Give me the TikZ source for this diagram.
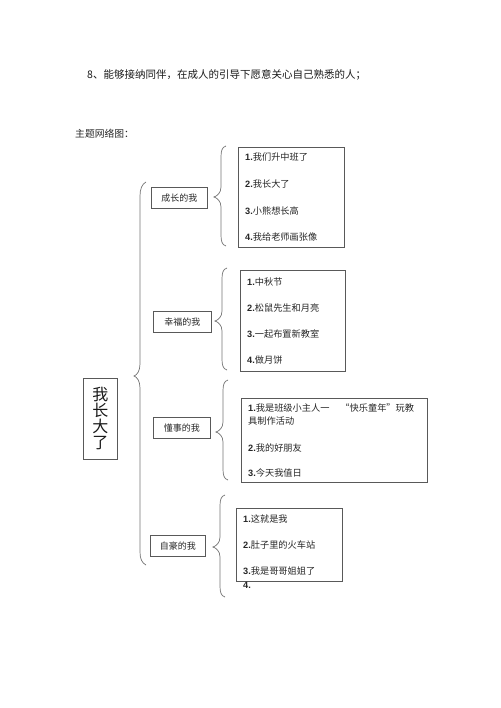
\documentclass[tikz,border=0pt]{standalone}
\usepackage{fontspec}
\setmainfont{Noto Sans CJK SC}
\newfontfamily\numfont{Liberation Sans}
\begin{document}
\begin{tikzpicture}[x=1pt,y=-1pt,
  lc/.style={draw=black!65, line width=0.7pt},
  sub/.style={lc, minimum width=#1, minimum height=21pt, inner sep=0pt, anchor=north west, font=\fontsize{9}{10}\selectfont, text=black!85},
  itembox/.style={lc, inner sep=0pt, anchor=north west},
  item/.style={anchor=west, inner sep=0pt, font=\fontsize{9.2}{10}\selectfont, text=black!85},
  brc/.style={draw=black!55, line width=0.7pt}]
\useasboundingbox (0,0) rectangle (500,708);
\newcommand{\nm}[1]{{\numfont\bfseries #1}}

\node[anchor=west, inner sep=0pt, font=\fontsize{10.5}{12}\selectfont, text=black!90] (head) at (87,75) {8、能够接纳同伴，在成人的引导下愿意关心自己熟悉的人；};
\node[anchor=west, inner sep=0pt, font=\fontsize{9.8}{11}\selectfont, text=black!85] (title) at (75,134) {主题网络图：};

% main box
\node[lc, anchor=north west, minimum width=34pt, minimum height=81pt, inner sep=0pt] (main) at (83,378) {};
\node[inner sep=0pt, font=\fontsize{16}{17}\selectfont, align=center, text=black!90] (maintxt) at (main.center) {我\\[-1pt]长\\[-1pt]大\\[-1pt]了};

% big brace
\draw[brc] (146,182) .. controls (142,184) and (140,189) .. (140,196) -- (140,364)
  .. controls (140,371) and (137,375) .. (134,376)
  .. controls (137,377) and (140,381) .. (140,388) -- (140,552)
  .. controls (140,559) and (142,563) .. (146,565);

% sub boxes
\node[sub=56pt] (s1) at (151,187) {成长的我};
\node[sub=58pt] (s2) at (153,311) {幸福的我};
\node[sub=57pt] (s3) at (153,417) {懂事的我};
\node[sub=55pt] (s4) at (150,535) {自豪的我};

% small braces
\newcommand{\smallbrace}[4]{% x spine, top, tip, bottom
  \draw[brc] (#1+5,#2) .. controls (#1+1,#2+1) and (#1,#2+5) .. (#1,#2+11) -- (#1,#3-10)
    .. controls (#1,#3-4) and (#1-4,#3-1) .. (#1-7,#3)
    .. controls (#1-4,#3+1) and (#1,#3+4) .. (#1,#3+10) -- (#1,#4-11)
    .. controls (#1,#4-5) and (#1+1,#4-1) .. (#1+5,#4);}
\smallbrace{221}{146}{197}{246}
\smallbrace{222}{268}{321}{370}
\smallbrace{223}{380}{432}{480}
\smallbrace{220}{495}{547}{597}

% item boxes
\node[itembox, minimum width=106pt, minimum height=100pt] (b1) at (238,147) {};
\node[itembox, minimum width=105pt, minimum height=101pt] (b2) at (240,270) {};
\node[itembox, minimum width=186pt, minimum height=84pt] (b3) at (241,398) {};
\node[itembox, minimum width=106pt, minimum height=73pt] (b4) at (236,508) {};

% items
\node[item] (i11) at (245,157) {\nm{1.}我们升中班了};
\node[item] (i12) at (245,184) {\nm{2.}我长大了};
\node[item] (i13) at (245,211) {\nm{3.}小熊想长高};
\node[item] (i14) at (245,237) {\nm{4.}我给老师画张像};

\node[item] (i21) at (247,282) {\nm{1.}中秋节};
\node[item] (i22) at (247,308) {\nm{2.}松鼠先生和月亮};
\node[item] (i23) at (247,334) {\nm{3.}一起布置新教室};
\node[item] (i24) at (247,360) {\nm{4.}做月饼};

\node[item] (i31) at (248,408) {\nm{1.}我是班级小主人一\hspace{11pt}“快乐童年”玩教};
\node[item] (i31b) at (248,421) {具制作活动};
\node[item] (i32) at (248,448) {\nm{2.}我的好朋友};
\node[item] (i33) at (248,473) {\nm{3.}今天我值日};

\node[item] (i41) at (243,519) {\nm{1.}这就是我};
\node[item] (i42) at (243,545) {\nm{2.}肚子里的火车站};
\node[item] (i43) at (243,571) {\nm{3.}我是哥哥姐姐了};
\node[item] (i44) at (243,585) {\nm{4.}};
\end{tikzpicture}
\end{document}
